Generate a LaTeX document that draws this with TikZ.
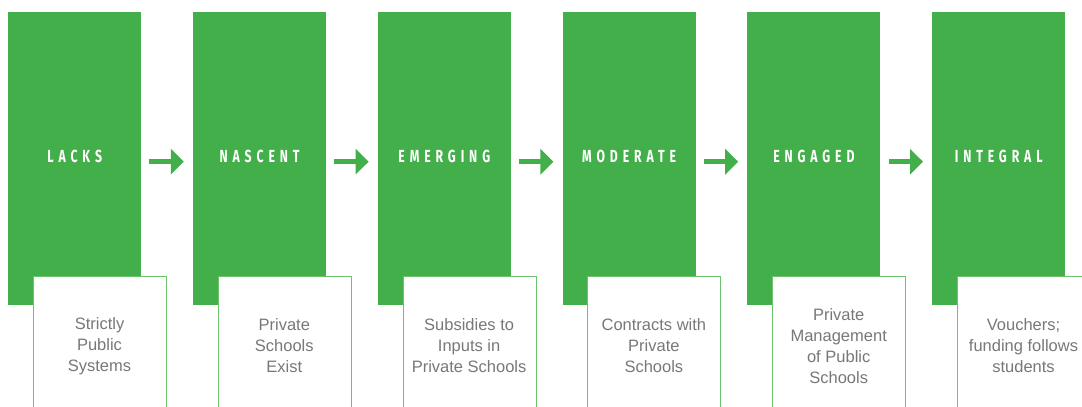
\documentclass[tikz,border=0pt]{standalone}
\usepackage{fontspec}
\setmainfont{Liberation Sans}
\newfontfamily\titlefont[LetterSpace=28,FakeStretch=0.7]{Fira Sans}
\usetikzlibrary{arrows.meta}
\definecolor{gr}{RGB}{66,175,74}
\definecolor{grl}{RGB}{110,195,110}
\definecolor{txt}{RGB}{120,120,120}
\tikzset{
  stagebox/.style={fill=gr,draw=none,minimum width=133pt,minimum height=293pt,anchor=north west,inner sep=0pt},
  stagetitle/.style={text=white,font=\titlefont\bfseries\fontsize{17.5}{17.5}\selectfont,inner sep=0pt},
  descbox/.style={fill=white,draw=grl,line width=0.8pt,minimum width=133pt,minimum height=150pt,anchor=north west,inner sep=0pt},
  desctext/.style={text=txt,align=center,font=\fontsize{16.5}{21}\selectfont,inner sep=0pt},
  steparrow/.style={draw=gr,line width=4.5pt,-{Triangle[length=13pt,width=25pt]},shorten <=8pt,shorten >=9pt}
}
\begin{document}
\begin{tikzpicture}[x=1pt,y=-1pt]
\useasboundingbox (0,0) rectangle (1082,407);
\clip (0,0) rectangle (1082,407);
\foreach \i/\t/\d in {0/LACKS/{Strictly\\Public\\Systems},
                      1/NASCENT/{Private\\Schools\\Exist},
                      2/EMERGING/{Subsidies to\\Inputs in\\Private Schools},
                      3/MODERATE/{Contracts with\\Private\\Schools},
                      4/ENGAGED/{Private\\Management\\of Public\\Schools},
                      5/INTEGRAL/{Vouchers;\\funding follows\\students}} {
  \pgfmathsetmacro{\xx}{8+184.8*\i}
  \node[stagebox] (g\i) at (\xx,12) {};
  \node[stagetitle] (t\i) at ([yshift=2.5pt]g\i.center) {\t};
  \node[descbox] (w\i) at (\xx+25,276) {};
  \node[desctext] (d\i) at (\xx+91.5,346) {\d};
}
\foreach \i/\j in {0/1,1/2,2/3,3/4,4/5} {
  \draw[steparrow] ([yshift=-3pt]g\i.east) -- ([yshift=-3pt]g\j.west);
}
\end{tikzpicture}
\end{document}
